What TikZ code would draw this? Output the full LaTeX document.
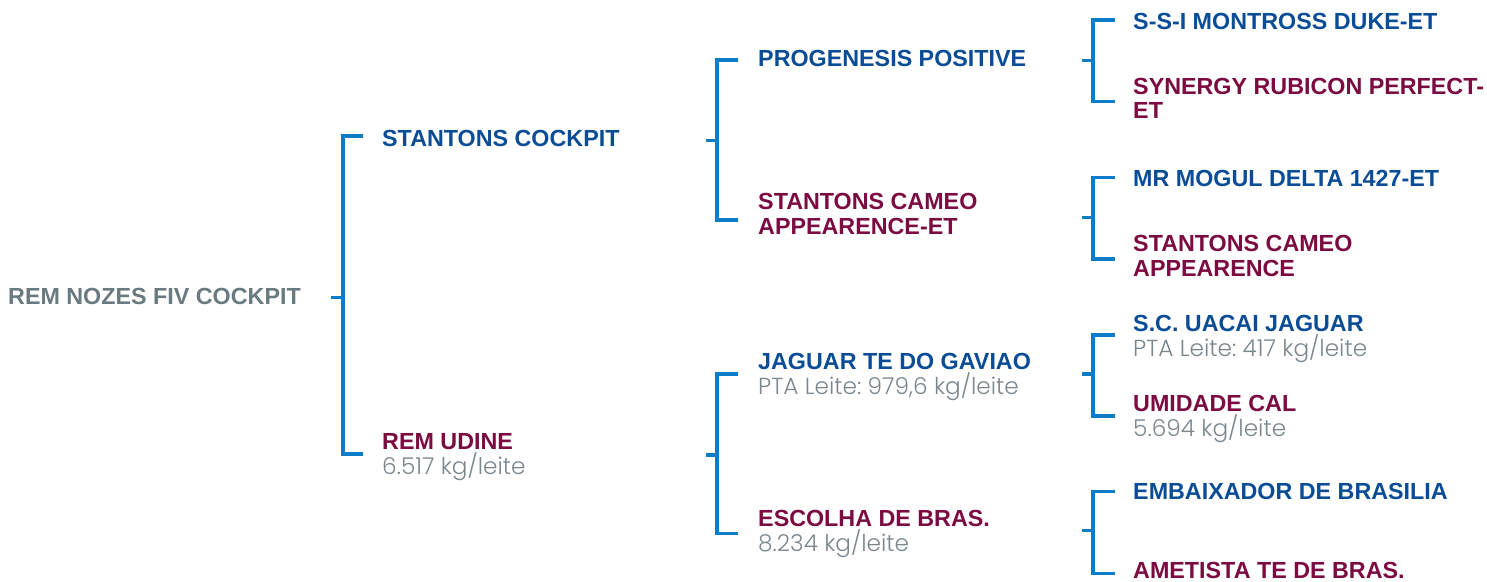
\documentclass[tikz,border=0pt]{standalone}
\usepackage{fontspec}
\setmainfont{Liberation Sans}
\newfontfamily\subfont{Poppins}[UprightFont=* Light, BoldFont=* Light]
\frenchspacing
\definecolor{nameblue}{HTML}{0A4C95}
\definecolor{namered}{HTML}{7B0B40}
\definecolor{rootgray}{HTML}{6A7A81}
\definecolor{subgray}{HTML}{7B878D}
\definecolor{linkblue}{HTML}{0B7CC5}
\tikzset{
  namebox/.style={inner sep=0pt, anchor=north west, align=left,
    font=\bfseries\fontsize{23.3}{25}\selectfont},
  sirebox/.style={namebox, text=nameblue},
  dambox/.style={namebox, text=namered},
  rootbox/.style={namebox, text=rootgray},
  bracketline/.style={draw=linkblue, line width=3.4pt, line join=miter, line cap=butt},
}
\newcommand{\subline}[1]{{\subfont\mdseries\fontsize{23.2}{25}\selectfont\color{subgray}\frenchspacing #1}}
\begin{document}
\begin{tikzpicture}[x=1pt,y=-1pt]
\useasboundingbox (0,0) rectangle (1487,581);

% ---------- names ----------
\node[rootbox] (root) at (8,288) {REM NOZES FIV COCKPIT};

\node[sirebox] (cockpit) at (382,130) {STANTONS COCKPIT};
\node[dambox]  (udine)   at (382,433.3) {REM UDINE\\\subline{6.517 kg/leite}};

\node[sirebox] (progenesis) at (758,50.5) {PROGENESIS POSITIVE};
\node[dambox]  (cameoet)    at (758,193.5) {STANTONS CAMEO\\APPEARENCE-ET};
\node[sirebox] (jaguarte)   at (758,353.5) {JAGUAR TE DO GAVIAO\\\subline{PTA Leite: 979,6 kg/leite}};
\node[dambox]  (escolha)    at (758,510) {ESCOLHA DE BRAS.\\\subline{8.234 kg/leite}};

\node[sirebox] (montross)   at (1133,13.3) {S-S-I MONTROSS DUKE-ET};
\node[dambox, font=\bfseries\fontsize{23.3}{24}\selectfont] (synergy) at (1133,78.3) {SYNERGY RUBICON PERFECT-\\ET};
\node[sirebox] (mogul)      at (1133,170) {MR MOGUL DELTA 1427-ET};
\node[dambox]  (cameo)      at (1133,235) {STANTONS CAMEO\\APPEARENCE};
\node[sirebox] (uacai)      at (1133,315) {S.C. UACAI JAGUAR\\\subline{PTA Leite: 417 kg/leite}};
\node[dambox]  (umidade)    at (1133,395) {UMIDADE CAL\\\subline{5.694 kg/leite}};
\node[sirebox] (embaixador) at (1133,483.3) {EMBAIXADOR DE BRASILIA};
\node[dambox]  (ametista)   at (1133,561.7) {AMETISTA TE DE BRAS.};

% ---------- bracket anchor coordinates ----------
\coordinate (r-stub) at (331,297.5);
\coordinate (r-mid)  at (343,297.5);
\coordinate (r-top)  at (362.5,136);
\coordinate (r-bot)  at (362.5,454);
\coordinate (c-stub) at (706,140.5);
\coordinate (c-mid)  at (717,140.5);
\coordinate (c-top)  at (738,60);
\coordinate (c-bot)  at (738,220);
\coordinate (u-stub) at (706,455);
\coordinate (u-mid)  at (717,455);
\coordinate (u-top)  at (738,374);
\coordinate (u-bot)  at (738,533.3);
\coordinate (p-stub) at (1082,60.7);
\coordinate (p-mid)  at (1093,60.7);
\coordinate (p-top)  at (1115,20);
\coordinate (p-bot)  at (1115,101.7);
\coordinate (ce-stub) at (1082,217.3);
\coordinate (ce-mid)  at (1093,217.3);
\coordinate (ce-top)  at (1115,177.7);
\coordinate (ce-bot)  at (1115,259);
\coordinate (j-stub) at (1082,374);
\coordinate (j-mid)  at (1093,374);
\coordinate (j-top)  at (1115,335);
\coordinate (j-bot)  at (1115,416);
\coordinate (e-stub) at (1082,530.7);
\coordinate (e-mid)  at (1093,530.7);
\coordinate (e-top)  at (1115,491.7);
\coordinate (e-bot)  at (1115,573.3);

% ---------- brackets ----------
\foreach \b in {r,c,u,p,ce,j,e}{
  \draw[bracketline] (\b-top) -- (\b-top -| \b-mid) -- (\b-bot -| \b-mid) -- (\b-bot);
  \draw[bracketline] (\b-stub) -- (\b-mid);
}
\end{tikzpicture}
\end{document}
